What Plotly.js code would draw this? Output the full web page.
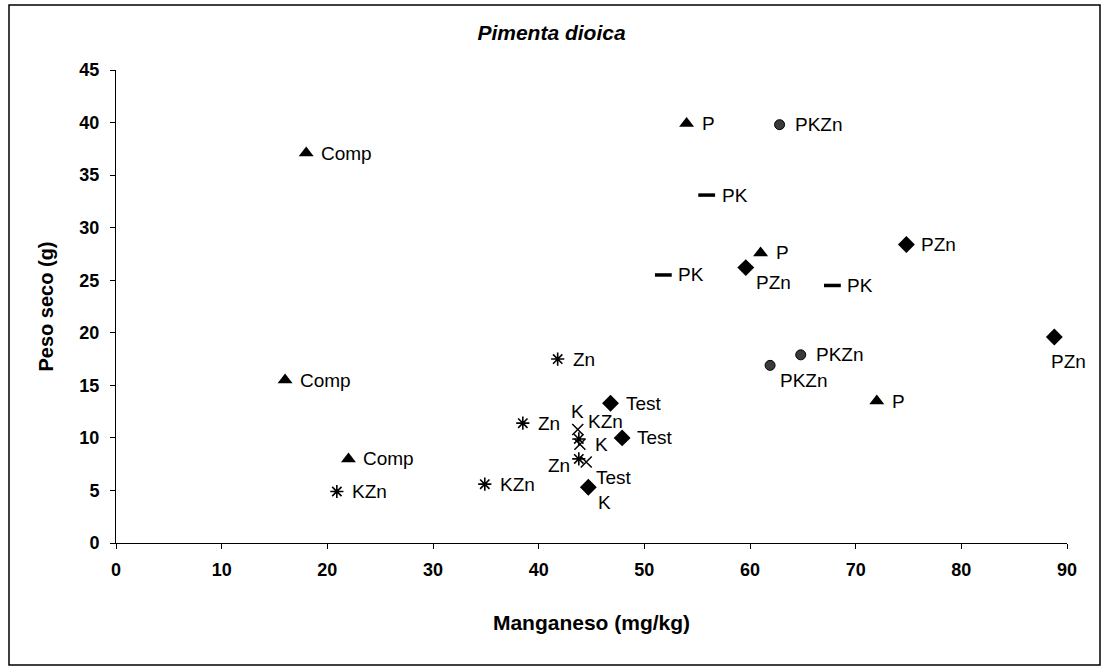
<!DOCTYPE html>
<html>
<head>
<meta charset="utf-8">
<script src="https://cdn.plot.ly/plotly-3.0.1.min.js"></script>
<style>html,body{margin:0;padding:0;background:#fff;}#chart{width:1103px;height:669px;}</style>
</head>
<body>
<div id="chart"></div>
<script>
// Triangle series (Comp, P)
const triX = [18, 16, 22, 54, 61, 72];
const triY = [37.1, 15.5, 8.0, 39.9, 27.6, 13.5];
const triLabels = ["Comp", "Comp", "Comp", "P", "P", "P"];
const triPlace = ["r", "r", "r", "r", "r", "r"];

// Diamond series (Test, K, PZn)
const diaX = [46.8, 47.9, 44.7, 59.6, 74.8, 88.8];
const diaY = [13.3, 10.0, 5.3, 26.2, 28.4, 19.6];
const diaLabels = ["Test", "Test", "K", "PZn", "PZn", "PZn"];
const diaPlace = ["r", "r", "br", "br", "r", "b"];

// X-marker series (K, K, Test)
const xmX = [43.7, 43.9, 44.5];
const xmY = [10.8, 9.4, 7.7];
const xmLabels = ["K", "K", "Test"];
const xmPlace = ["t", "r", "br"];

// Asterisk series (Zn, KZn)
const astX = [41.8, 38.5, 34.9, 20.9, 43.8, 43.8];
const astY = [17.5, 11.4, 5.6, 4.9, 9.9, 8.0];
const astLabels = ["Zn", "Zn", "KZn", "KZn", "KZn", "Zn"];
const astPlace = ["r", "r", "r", "r", "tr", "l"];

// Circle series (PKZn)
const cirX = [62.8, 64.8, 61.9];
const cirY = [39.8, 17.9, 16.9];
const cirLabels = ["PKZn", "PKZn", "PKZn"];
const cirPlace = ["r", "r", "br"];

// Dash series (PK)
const dashX = [55.9, 51.8, 67.8];
const dashY = [33.1, 25.5, 24.5];
const dashLabels = ["PK", "PK", "PK"];
const dashPlace = ["r", "r", "r"];

const xTicks = [0, 10, 20, 30, 40, 50, 60, 70, 80, 90];
const yTicks = [0, 5, 10, 15, 20, 25, 30, 35, 40, 45];

const FONT = "Liberation Sans, Arial, sans-serif";
const lblFont = {family: FONT, size: 19, color: "#000"};

// label placement styles (offsets in screen pixels)
const placeStyle = {
  r:  {xanchor: "left",   yanchor: "middle", xshift: 14, yshift: 0},
  br: {xanchor: "left",   yanchor: "middle", xshift: 9,  yshift: -15},
  b:  {xanchor: "left",   yanchor: "middle", xshift: -4, yshift: -25},
  t:  {xanchor: "center", yanchor: "middle", xshift: 0,  yshift: 18},
  tr: {xanchor: "left",   yanchor: "middle", xshift: 8,  yshift: 17},
  l:  {xanchor: "right",  yanchor: "middle", xshift: -8, yshift: -7}
};

function series(x, y, marker) {
  return {type: "scatter", mode: "markers", x: x, y: y, marker: marker,
          cliponaxis: false, showlegend: false, hoverinfo: "x+y"};
}

const data = [
  series(triX, triY, {symbol: "triangle-up", size: 13, color: "#000"}),
  series(diaX, diaY, {symbol: "diamond", size: 13, color: "#000"}),
  series(xmX, xmY, {symbol: "x-thin-open", size: 11, color: "#000", line: {width: 1.5, color: "#000"}}),
  series(astX, astY, {symbol: "asterisk-open", size: 11, color: "#000", line: {width: 1.6, color: "#000"}}),
  series(cirX, cirY, {symbol: "circle", size: 10, color: "#3a3a3a", line: {width: 1, color: "#000"}}),
  series(dashX, dashY, {symbol: "line-ew-open", size: 12, color: "#000", line: {width: 3.5, color: "#000"}})
];

const annotations = [];
function addLabels(x, y, labels, place) {
  for (let i = 0; i < x.length; i++) {
    const s = placeStyle[place[i]];
    annotations.push({x: x[i], y: y[i], xref: "x", yref: "y", text: labels[i], showarrow: false,
      font: lblFont, xanchor: s.xanchor, yanchor: s.yanchor, xshift: s.xshift, yshift: s.yshift, borderpad: 0});
  }
}
addLabels(triX, triY, triLabels, triPlace);
addLabels(diaX, diaY, diaLabels, diaPlace);
addLabels(xmX, xmY, xmLabels, xmPlace);
addLabels(astX, astY, astLabels, astPlace);
addLabels(cirX, cirY, cirLabels, cirPlace);
addLabels(dashX, dashY, dashLabels, dashPlace);

const tickFont = {family: FONT, size: 18, color: "#000", weight: "bold"};

const layout = {
  width: 1103, height: 669,
  margin: {l: 116, r: 36, t: 70, b: 126},
  paper_bgcolor: "#fff", plot_bgcolor: "#fff",
  title: {
    text: "<b><i>Pimenta dioica</i></b>",
    font: {family: FONT, size: 21, color: "#000"},
    x: 0.5, xref: "container", y: 1 - 33 / 669, yref: "container", yanchor: "middle"
  },
  xaxis: {
    range: [0, 90], tickvals: xTicks, ticktext: xTicks.map(String),
    showgrid: false, zeroline: false, showline: true, linecolor: "#000", linewidth: 1,
    ticks: "outside", ticklen: 5, tickcolor: "#000", tickfont: tickFont, ticklabelstandoff: 5,
    title: {text: "<b>Manganeso (mg/kg)</b>", font: {family: FONT, size: 21, color: "#000"}, standoff: 36}
  },
  yaxis: {
    range: [0, 45], tickvals: yTicks, ticktext: yTicks.map(String),
    showgrid: false, zeroline: false, showline: true, linecolor: "#000", linewidth: 1,
    ticks: "outside", ticklen: 5, tickcolor: "#000", tickfont: tickFont, ticklabelstandoff: 7,
    title: {text: "<b>Peso seco (g)</b>", font: {family: FONT, size: 20, color: "#000"}, standoff: 20}
  },
  annotations: annotations,
  shapes: [{
    type: "rect", xref: "paper", yref: "paper",
    x0: (9 - 116) / 951, x1: (1100 - 116) / 951,
    y0: (543 - 665) / 473, y1: (543 - 5) / 473,
    line: {color: "#000", width: 1.5}, fillcolor: "rgba(0,0,0,0)", layer: "below"
  }]
};

Plotly.newPlot("chart", data, layout, {displayModeBar: false, staticPlot: true});
</script>
</body>
</html>
